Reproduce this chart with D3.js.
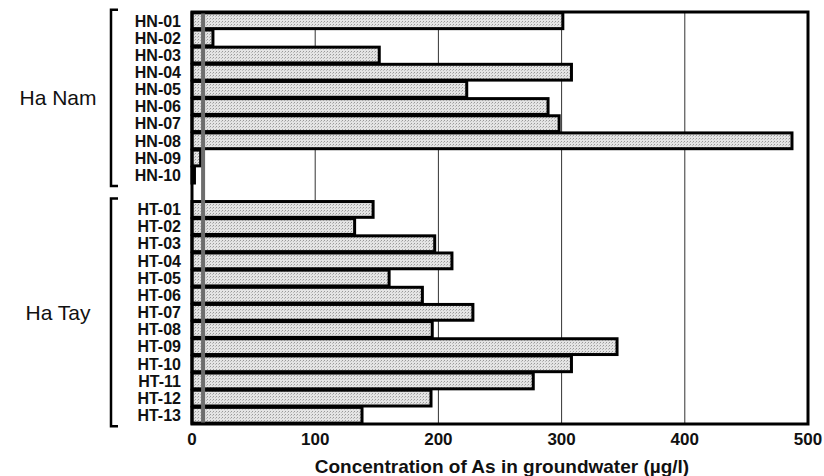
<!DOCTYPE html>
<html>
<head>
<meta charset="utf-8"/>
<title>As in groundwater</title>
<script src="https://d3js.org/d3.v7.min.js"></script>
<style>
    body { margin: 0; background: #fff; }
    text { font-family: "Liberation Sans", Arial, sans-serif; fill: #111; }
    .lab { font-weight: bold; font-size: 16px; }
    .grp { font-size: 21px; }
    .tick { font-weight: bold; font-size: 17px; }
    .title { font-weight: bold; font-size: 19px; }
</style>
</head>
<body>
<svg id="chart" width="824" height="476"></svg>
<script>
    // sample wells and As concentration (ug/l)
    var hnSites = ["HN-01","HN-02","HN-03","HN-04","HN-05","HN-06","HN-07","HN-08","HN-09","HN-10"];
    var hnValues = [301, 17, 152, 308, 223, 289, 298, 487, 7, 2];
    var htSites = ["HT-01","HT-02","HT-03","HT-04","HT-05","HT-06","HT-07","HT-08","HT-09","HT-10","HT-11","HT-12","HT-13"];
    var htValues = [147, 132, 197, 211, 160, 187, 228, 195, 345, 308, 277, 194, 138];
    var xTicks = [0, 100, 200, 300, 400, 500];
    var guideline = 9;   // thick grey line near the WHO value

    var svg = d3.select("#chart");
    var plotL = 192, plotR = 808, plotT = 12, plotB = 424;

    // pattern for the stippled grey fill
    var defs = svg.append("defs");
    var pat = defs.append("pattern")
        .attr("id", "dots")
        .attr("width", 3).attr("height", 3)
        .attr("patternUnits", "userSpaceOnUse");
    pat.append("rect").attr("width", 3).attr("height", 3).attr("fill", "#e4e4e4");
    pat.append("rect").attr("x", 0).attr("y", 0).attr("width", 1).attr("height", 1).attr("fill", "#999");
    pat.append("rect").attr("x", 2).attr("y", 1).attr("width", 1).attr("height", 1).attr("fill", "#bbb");

    var data = [];
    hnSites.forEach(function(s, i) { data.push({site: s, value: hnValues[i]}); });
    htSites.forEach(function(s, i) { data.push({site: s, value: htValues[i]}); });

    // empty slot between the two provinces
    var domain = hnSites.concat(["gap"]).concat(htSites);

    var x = d3.scaleLinear().domain([0, 500]).range([plotL, plotR]);
    var y = d3.scaleBand().domain(domain).range([plotT, plotB]).paddingInner(0.08).paddingOuter(0.05);

    // gridlines
    svg.append("g").selectAll("line")
        .data(xTicks.slice(1, -1))
        .enter().append("line")
        .attr("x1", function(d) { return x(d); })
        .attr("x2", function(d) { return x(d); })
        .attr("y1", plotT).attr("y2", plotB)
        .attr("stroke", "#333").attr("stroke-width", 1);

    // bars
    svg.append("g").selectAll("rect")
        .data(data)
        .enter().append("rect")
        .attr("x", x(0))
        .attr("y", function(d) { return y(d.site); })
        .attr("width", function(d) { return x(d.value) - x(0); })
        .attr("height", y.bandwidth())
        .attr("fill", "url(#dots)")
        .attr("stroke", "#000")
        .attr("stroke-width", 3);

    // thick grey guideline
    svg.append("line")
        .attr("x1", x(guideline)).attr("x2", x(guideline))
        .attr("y1", plotT).attr("y2", plotB)
        .attr("stroke", "#6e6e6e").attr("stroke-width", 4);

    // frame
    svg.append("rect")
        .attr("x", plotL).attr("y", plotT)
        .attr("width", plotR - plotL).attr("height", plotB - plotT)
        .attr("fill", "none").attr("stroke", "#000").attr("stroke-width", 3);

    // site labels
    svg.append("g").selectAll("text")
        .data(data)
        .enter().append("text")
        .attr("class", "lab")
        .attr("x", 181)
        .attr("y", function(d) { return y(d.site) + y.bandwidth() / 2; })
        .attr("dy", "0.36em")
        .attr("text-anchor", "end")
        .text(function(d) { return d.site; });

    // x axis tick labels
    svg.append("g").selectAll("text")
        .data(xTicks)
        .enter().append("text")
        .attr("class", "tick")
        .attr("x", function(d) { return x(d); })
        .attr("y", 445)
        .attr("text-anchor", "middle")
        .text(function(d) { return d; });

    svg.append("text")
        .attr("class", "title")
        .attr("x", x(250) + 2)
        .attr("y", 473)
        .attr("text-anchor", "middle")
        .text("Concentration of As in groundwater (\u00b5g/l)");

    // province brackets
    var groups = [
        {name: "Ha Nam", first: hnSites[0], last: hnSites[hnSites.length - 1]},
        {name: "Ha Tay", first: htSites[0], last: htSites[htSites.length - 1]}
    ];
    groups.forEach(function(g) {
        var y0 = y(g.first) - 3, y1 = y(g.last) + y.bandwidth() + 3;
        svg.append("path")
            .attr("d", "M118," + y0 + "H111V" + y1 + "H118")
            .attr("fill", "none").attr("stroke", "#000").attr("stroke-width", 2.5);
        svg.append("text")
            .attr("class", "grp")
            .attr("x", 58)
            .attr("y", (y0 + y1) / 2)
            .attr("dy", "0.36em")
            .attr("text-anchor", "middle")
            .text(g.name);
    });
</script>
</body>
</html>
